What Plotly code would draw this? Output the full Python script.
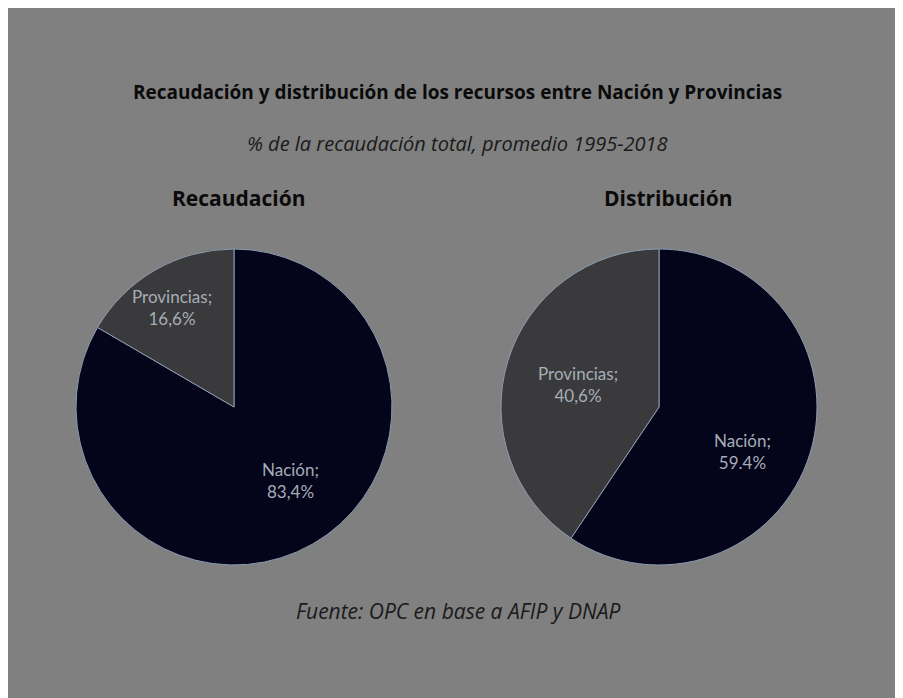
import plotly.graph_objects as go

categories = ["Nación", "Provincias"]
recaudacion = [83.4, 16.6]
distribucion = [59.4, 40.6]
labels_rec = ["Nación;<br>83,4%", "Provincias;<br>16,6%"]
labels_dis = ["Nación;<br>59.4%", "Provincias;<br>40,6%"]

colors = ["#04041a", "#3a3a3c"]
line_col = "#8a9bb0"
# figure is placed by the page with an 8px body margin
W, H = 894, 690
OFF = 8


def px(x):
    return (x - OFF) / W


def py(y):
    return 1 - (y - OFF) / H


fig = go.Figure()
fig.add_trace(go.Pie(
    labels=categories, values=recaudacion, sort=False, direction="clockwise",
    rotation=0, marker=dict(colors=colors, line=dict(color=line_col, width=1)),
    textinfo="none", hoverinfo="label+percent",
    domain=dict(x=[px(76), px(392)], y=[py(565), py(249)]),
    showlegend=False,
))
fig.add_trace(go.Pie(
    labels=categories, values=distribucion, sort=False, direction="clockwise",
    rotation=0, marker=dict(colors=colors, line=dict(color=line_col, width=1)),
    textinfo="none", hoverinfo="label+percent",
    domain=dict(x=[px(501), px(817)], y=[py(565), py(249)]),
    showlegend=False,
))

font_lab = dict(family="Lato", size=17, color="#a6adb6")
label_pos = [
    (labels_rec[0], 290, 480), (labels_rec[1], 172, 308),
    (labels_dis[0], 742, 452), (labels_dis[1], 578, 384),
]
ann = []
for t, x, y in label_pos:
    ann.append(dict(text=t, x=px(x), y=py(y), xref="paper", yref="paper",
                    xanchor="center", yanchor="middle",
                    showarrow=False, font=font_lab, align="center"))


def txt(t, x, y, size, family="Open Sans", color="#0a0a0a"):
    return dict(text=t, x=px(x), y=py(y), xref="paper", yref="paper",
                xanchor="center", yanchor="middle", showarrow=False,
                font=dict(family=family, size=size, color=color))


ann += [
    txt("<b>Recaudación y distribución de los recursos entre Nación y Provincias</b>", 457, 92, 19),
    txt("<i>% de la recaudación total, promedio 1995-2018</i>", 457, 143, 20, color="#1a1a1a"),
    txt("<b>Recaudación</b>", 239, 198, 21),
    txt("<b>Distribución</b>", 668, 198, 21),
    txt("<i>Fuente: OPC en base a AFIP y DNAP</i>", 458, 611, 21, color="#1a1a1a"),
]

fig.update_layout(
    width=W, height=H, margin=dict(l=0, r=0, t=0, b=0),
    paper_bgcolor="#808080", plot_bgcolor="#808080",
    annotations=ann,
)
fig.write_html("out.html")
